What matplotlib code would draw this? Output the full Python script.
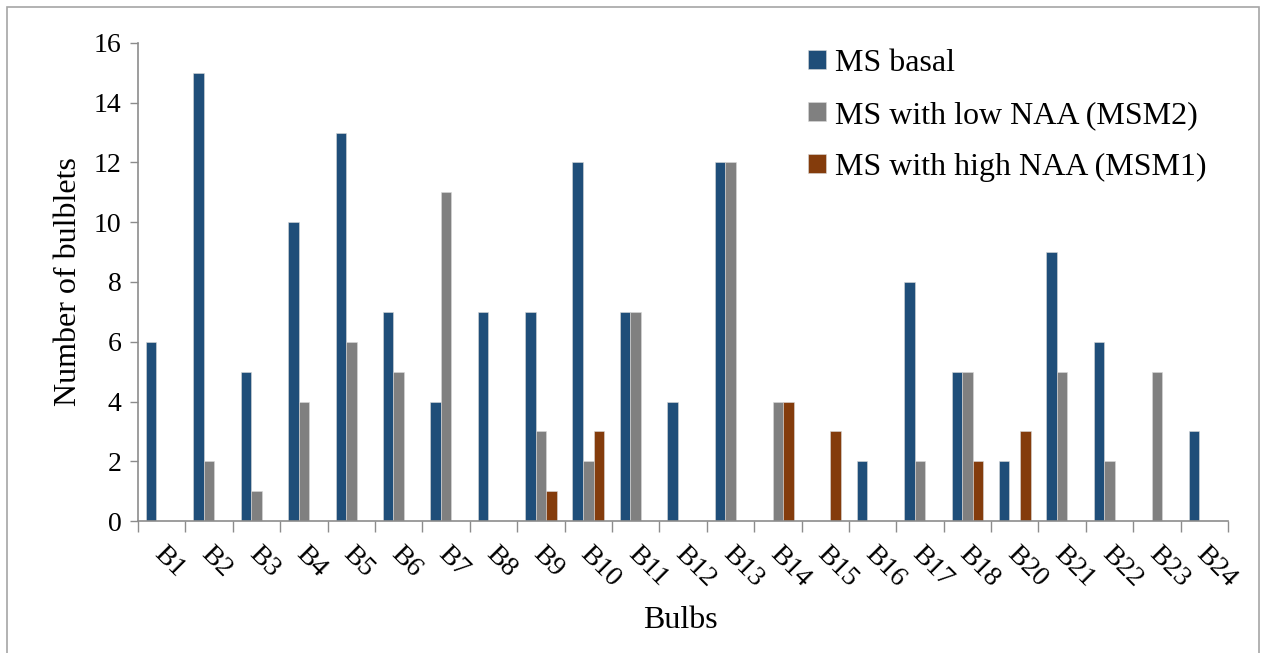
import matplotlib.pyplot as plt
import numpy as np
from matplotlib.patches import Rectangle

plt.rcParams["font.family"] = ["Liberation Serif", "DejaVu Serif"]

bulbs = ["B1", "B2", "B3", "B4", "B5", "B6", "B7", "B8", "B9", "B10", "B11", "B12",
         "B13", "B14", "B15", "B16", "B17", "B18", "B20", "B21", "B22", "B23", "B24"]
ms_basal = [6, 15, 5, 10, 13, 7, 4, 7, 7, 12, 7, 4, 12, 0, 0, 2, 8, 5, 2, 9, 6, 0, 3]
ms_low_naa = [0, 2, 1, 4, 6, 5, 11, 0, 3, 2, 7, 0, 12, 4, 0, 0, 2, 5, 0, 5, 2, 5, 0]
ms_high_naa = [0, 0, 0, 0, 0, 0, 0, 0, 1, 3, 0, 0, 0, 4, 3, 0, 0, 2, 3, 0, 0, 0, 0]

series = [
    ("MS basal", ms_basal, "#1F4E79"),
    ("MS with low NAA (MSM2)", ms_low_naa, "#808080"),
    ("MS with high NAA (MSM1)", ms_high_naa, "#843C0C"),
]

fig = plt.figure(figsize=(12.63, 6.53), dpi=100)
ax = fig.add_axes([0.1093, 0.2021, 0.8630, 0.7321])

x = np.arange(len(bulbs))
w = 1 / 4.5
for i, (name, vals, col) in enumerate(series):
    ax.bar(x + (i - 1) * w, vals, width=w, color=col, label=name,
           edgecolor="#d9d9d9", linewidth=0.4)

ax.set_xlim(-0.5, len(bulbs) - 0.5)
ax.set_ylim(0, 16)
ax.set_yticks(range(0, 17, 2))
ax.tick_params(axis="y", labelsize=20, length=6, color="#8c8c8c", width=1, pad=6)

# category ticks sit between the groups
ax.set_xticks(np.arange(len(bulbs) + 1) - 0.5)
ax.set_xticklabels([])
ax.tick_params(axis="x", length=8, color="#8c8c8c", width=1)
for xi, lab in zip(x, bulbs):
    ax.text(xi + 0.1, -0.7, lab, rotation=-45, rotation_mode="anchor",
            ha="left", va="top", fontsize=20)

for side in ["top", "right"]:
    ax.spines[side].set_visible(False)
for side in ["left", "bottom"]:
    ax.spines[side].set_color("#8c8c8c")
    ax.spines[side].set_linewidth(1.2)

ax.set_ylabel("Number of bulblets", fontsize=23, labelpad=8)
fig.text(0.539, 0.05, "Bulbs", ha="center", va="center", fontsize=23)

fig.legend(loc="upper left", bbox_to_anchor=(808 / 1263, 1 - 49 / 653), frameon=False,
           fontsize=23, handlelength=0.55, handleheight=0.55, handletextpad=0.3,
           labelspacing=0.72, borderpad=0, borderaxespad=0)

fig.patches.append(Rectangle((0.0055, -0.1), 0.9915, 1.089, transform=fig.transFigure,
                             fill=False, edgecolor="#a6a6a6", linewidth=1.2))

fig.savefig("out.png", dpi=100)
